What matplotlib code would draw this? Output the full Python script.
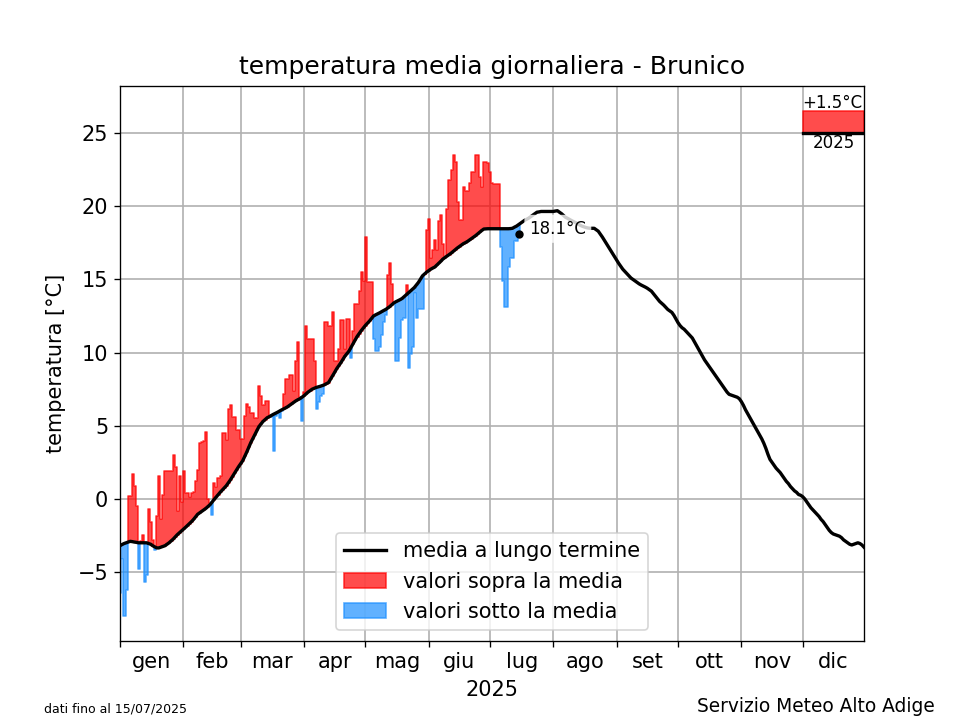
import numpy as np
import matplotlib
matplotlib.use('Agg')
import matplotlib.pyplot as plt

month_labels = ['gen', 'feb', 'mar', 'apr', 'mag', 'giu', 'lug', 'ago', 'set', 'ott', 'nov', 'dic']
month_starts = [0, 31, 59, 90, 120, 151, 181, 212, 243, 273, 304, 334]
month_ends = month_starts[1:] + [364]

# long term mean, one value per day
clima = [
    -3.2, -3.12, -3.05, -3.0, -2.95, -2.9, -2.92, -2.95, -2.97, -3.0,
    -3.0, -3.0, -3.0, -3.0, -3.05, -3.1, -3.2, -3.28, -3.35, -3.35,
    -3.3, -3.25, -3.2, -3.1, -3.0, -2.88, -2.75, -2.6, -2.45, -2.32,
    -2.2, -2.08, -1.95, -1.82, -1.7, -1.55, -1.4, -1.22, -1.05, -0.95,
    -0.85, -0.75, -0.65, -0.52, -0.4, -0.22, -0.05, 0.12, 0.3, 0.45,
    0.6, 0.75, 0.9, 1.1, 1.3, 1.52, 1.75, 1.98, 2.2, 2.4,
    2.6, 2.9, 3.2, 3.52, 3.85, 4.12, 4.4, 4.68, 4.95, 5.12,
    5.3, 5.42, 5.55, 5.62, 5.7, 5.78, 5.85, 5.92, 6.0, 6.08,
    6.15, 6.22, 6.3, 6.4, 6.5, 6.6, 6.7, 6.78, 6.85, 6.95,
    7.05, 7.18, 7.3, 7.4, 7.5, 7.56, 7.62, 7.66, 7.7, 7.75,
    7.8, 7.88, 7.95, 8.18, 8.4, 8.65, 8.9, 9.1, 9.3, 9.52,
    9.75, 9.92, 10.1, 10.35, 10.6, 10.85, 11.1, 11.3, 11.5, 11.68,
    11.85, 12.0, 12.15, 12.32, 12.5, 12.58, 12.65, 12.72, 12.8, 12.88,
    12.95, 13.05, 13.15, 13.28, 13.4, 13.48, 13.55, 13.62, 13.7, 13.82,
    13.95, 14.08, 14.2, 14.32, 14.45, 14.62, 14.8, 15.02, 15.25, 15.38,
    15.5, 15.6, 15.7, 15.78, 15.85, 15.98, 16.1, 16.25, 16.4, 16.5,
    16.6, 16.7, 16.8, 16.92, 17.05, 17.15, 17.25, 17.35, 17.45, 17.52,
    17.6, 17.7, 17.8, 17.9, 18.0, 18.12, 18.25, 18.35, 18.45, 18.46,
    18.47, 18.47, 18.47, 18.47, 18.47, 18.47, 18.47, 18.47, 18.47, 18.47,
    18.47, 18.48, 18.5, 18.58, 18.65, 18.75, 18.85, 18.95, 19.05, 19.12,
    19.2, 19.3, 19.4, 19.5, 19.6, 19.62, 19.65, 19.65, 19.65, 19.65,
    19.65, 19.65, 19.65, 19.68, 19.7, 19.6, 19.5, 19.38, 19.25, 19.18,
    19.1, 19.02, 18.95, 18.88, 18.8, 18.72, 18.65, 18.6, 18.55, 18.52,
    18.5, 18.5, 18.5, 18.4, 18.3, 18.1, 17.9, 17.68, 17.45, 17.22,
    17.0, 16.78, 16.55, 16.32, 16.1, 15.9, 15.7, 15.55, 15.4, 15.25,
    15.1, 15.0, 14.9, 14.8, 14.7, 14.62, 14.55, 14.48, 14.4, 14.3,
    14.2, 14.02, 13.85, 13.68, 13.5, 13.38, 13.25, 13.1, 12.95, 12.85,
    12.75, 12.55, 12.3, 12.05, 11.85, 11.7, 11.6, 11.45, 11.3, 11.15,
    11.0, 10.75, 10.5, 10.25, 10.0, 9.75, 9.5, 9.3, 9.1, 8.9,
    8.7, 8.5, 8.3, 8.1, 7.9, 7.7, 7.5, 7.3, 7.15, 7.1,
    7.05, 7.0, 6.95, 6.85, 6.65, 6.4, 6.1, 5.85, 5.6, 5.35,
    5.1, 4.85, 4.6, 4.35, 4.1, 3.8, 3.45, 3.05, 2.7, 2.5,
    2.3, 2.1, 1.95, 1.8, 1.6, 1.4, 1.2, 1.05, 0.85, 0.7,
    0.55, 0.45, 0.3, 0.25, 0.15, 0.0, -0.2, -0.4, -0.6, -0.75,
    -0.9, -1.05, -1.2, -1.4, -1.55, -1.75, -1.95, -2.15, -2.3, -2.4,
    -2.45, -2.5, -2.55, -2.65, -2.8, -2.9, -3.0, -3.1, -3.15, -3.1,
    -3.05, -3.0, -3.05, -3.15, -3.3,
]

# daily means of 2025 up to 15 July
valori = [
    -6.4, -4.1, -8.0, -6.2, 0.2, 0.2, 1.7, 0.9, -0.5, -4.8,
    -2.9, -2.5, -5.7, -5.2, -0.7, -1.6, -2.8, -3.5, -1.2, 1.6,
    -1.4, 0.3, 1.9, 1.9, 1.9, 1.9, 3.0, 2.2, -0.8, 1.6,
    -0.2, 1.9, 0.4, 0.4, 0.1, 0.4, 0.5, 1.2, 2.0, 3.8,
    3.9, 3.95, 4.6, 0.0, -0.3, -1.1, 1.1, 0.8, 1.4, 1.6,
    4.5, 4.5, 4.0, 6.15, 6.4, 5.6, 5.6, 4.7, 4.7, 4.1,
    4.1, 5.7, 6.5, 6.25, 5.9, 5.9, 5.5, 5.5, 7.7, 7.05,
    6.4, 6.7, 6.7, 5.7, 5.6, 3.3, 5.7, 5.8, 5.5, 6.0,
    7.2, 8.2, 8.2, 8.5, 8.5, 7.4, 9.45, 10.75, 7.0, 5.3,
    7.3, 11.8, 10.9, 10.9, 10.9, 9.4, 6.15, 6.6, 7.05, 7.2,
    12.1, 12.1, 11.8, 11.8, 12.8, 9.45, 9.45, 10.25, 12.2, 12.2,
    10.25, 12.3, 12.3, 9.6, 11.5, 13.3, 13.3, 14.2, 15.5, 14.9,
    17.9, 14.8, 14.8, 14.8, 10.9, 10.1, 10.1, 10.4, 11.2, 12.1,
    12.6, 15.3, 16.1, 14.7, 13.3, 9.4, 9.4, 11.0, 12.2, 12.4,
    14.65, 8.95, 9.9, 10.4, 14.1, 12.4, 13.0, 13.0, 13.0, 15.4,
    18.35, 19.15, 16.5, 17.0, 17.7, 17.0, 19.0, 19.4, 17.4, 16.6,
    19.8, 21.8, 22.5, 23.5, 23.0, 20.3, 19.1, 19.1, 21.3, 21.05,
    21.05, 21.6, 22.35, 22.35, 23.5, 23.5, 22.0, 21.3, 23.0, 23.0,
    22.97, 22.35, 21.6, 21.55, 21.55, 21.55, 17.2, 14.9, 13.15, 13.15,
    15.85, 16.5, 16.5, 17.6, 17.6, 18.1,
]

anomalia = 1.5
anno = '2025'

clima = np.array(clima)
valori = np.array(valori)
giorni = np.arange(len(clima))
n = len(valori)

# each day gets its own flat step, so a single day still has a width
x_step = np.column_stack([giorni[:n] - 0.3, giorni[:n] + 0.7]).ravel()
y_val = np.repeat(valori, 2)
y_clima = np.repeat(clima[:n], 2)

fig, ax = plt.subplots(figsize=(8, 6), dpi=120)

ax.fill_between(x_step, y_clima, y_val, where=y_val >= y_clima, color='red', alpha=0.7,
                interpolate=False, label='valori sopra la media')
ax.fill_between(x_step, y_clima, y_val, where=y_val < y_clima, color='dodgerblue', alpha=0.7,
                interpolate=False, label='valori sotto la media')
ax.plot(giorni, clima, color='black', lw=2, label='media a lungo termine')
ax.plot(n - 1, valori[-1], 'o', color='black', ms=4, zorder=6)
ax.annotate('%.1f°C' % valori[-1], (n - 1, valori[-1]), xytext=(6.5, -2.2), textcoords='offset points',
            fontsize=10, va='bottom', zorder=5,
            bbox=dict(boxstyle='round', fc='white', ec='none', alpha=0.8))

# box with the yearly anomaly
ax.fill_between([month_starts[-1], month_ends[-1]], 25, 25 + anomalia, color='red', alpha=0.7)
ax.plot([month_starts[-1], month_ends[-1]], [25, 25], color='black', lw=2)
x_mid = (month_starts[-1] + month_ends[-1]) / 2
ax.text(x_mid - 0.5, 25 + anomalia - 0.05, '%+.1f°C' % anomalia, ha='center', va='bottom', fontsize=10)
ax.text(x_mid + 0.5, 24.97, anno, ha='center', va='top', fontsize=10)

ax.set_xlim(0, 364)
ax.set_ylim(-9.7, 28.2)
ax.set_xticks(month_starts)
ax.set_xticklabels([])
ax.set_xticks([(a + b) / 2 for a, b in zip(month_starts, month_ends)], minor=True)
ax.set_xticklabels(month_labels, minor=True, fontsize=12.5)
ax.tick_params(axis='x', which='minor', length=0, pad=6.5)
ax.tick_params(axis='y', labelsize=12.5)
ax.grid(True, which='major', color='#b0b0b0', lw=1)
ax.set_axisbelow(True)

ax.set_title('temperatura media giornaliera - Brunico', fontsize=15, pad=7.5)
ax.set_xlabel(anno, fontsize=12.5, labelpad=4.8)
ax.set_ylabel('temperatura [°C]', fontsize=12.5, labelpad=7)

handles, labels = ax.get_legend_handles_labels()
order = [labels.index('media a lungo termine'), labels.index('valori sopra la media'),
         labels.index('valori sotto la media')]
ax.legend([handles[i] for i in order], [labels[i] for i in order], loc='lower center', fontsize=12.5)

fig.text(44 / 960, 1 - 709 / 720, 'dati fino al 15/07/2025', fontsize=7.5, va='center')
fig.text(935 / 960, 1 - 707 / 720, 'Servizio Meteo Alto Adige', fontsize=11.15, va='center', ha='right')

fig.savefig('out.png')
